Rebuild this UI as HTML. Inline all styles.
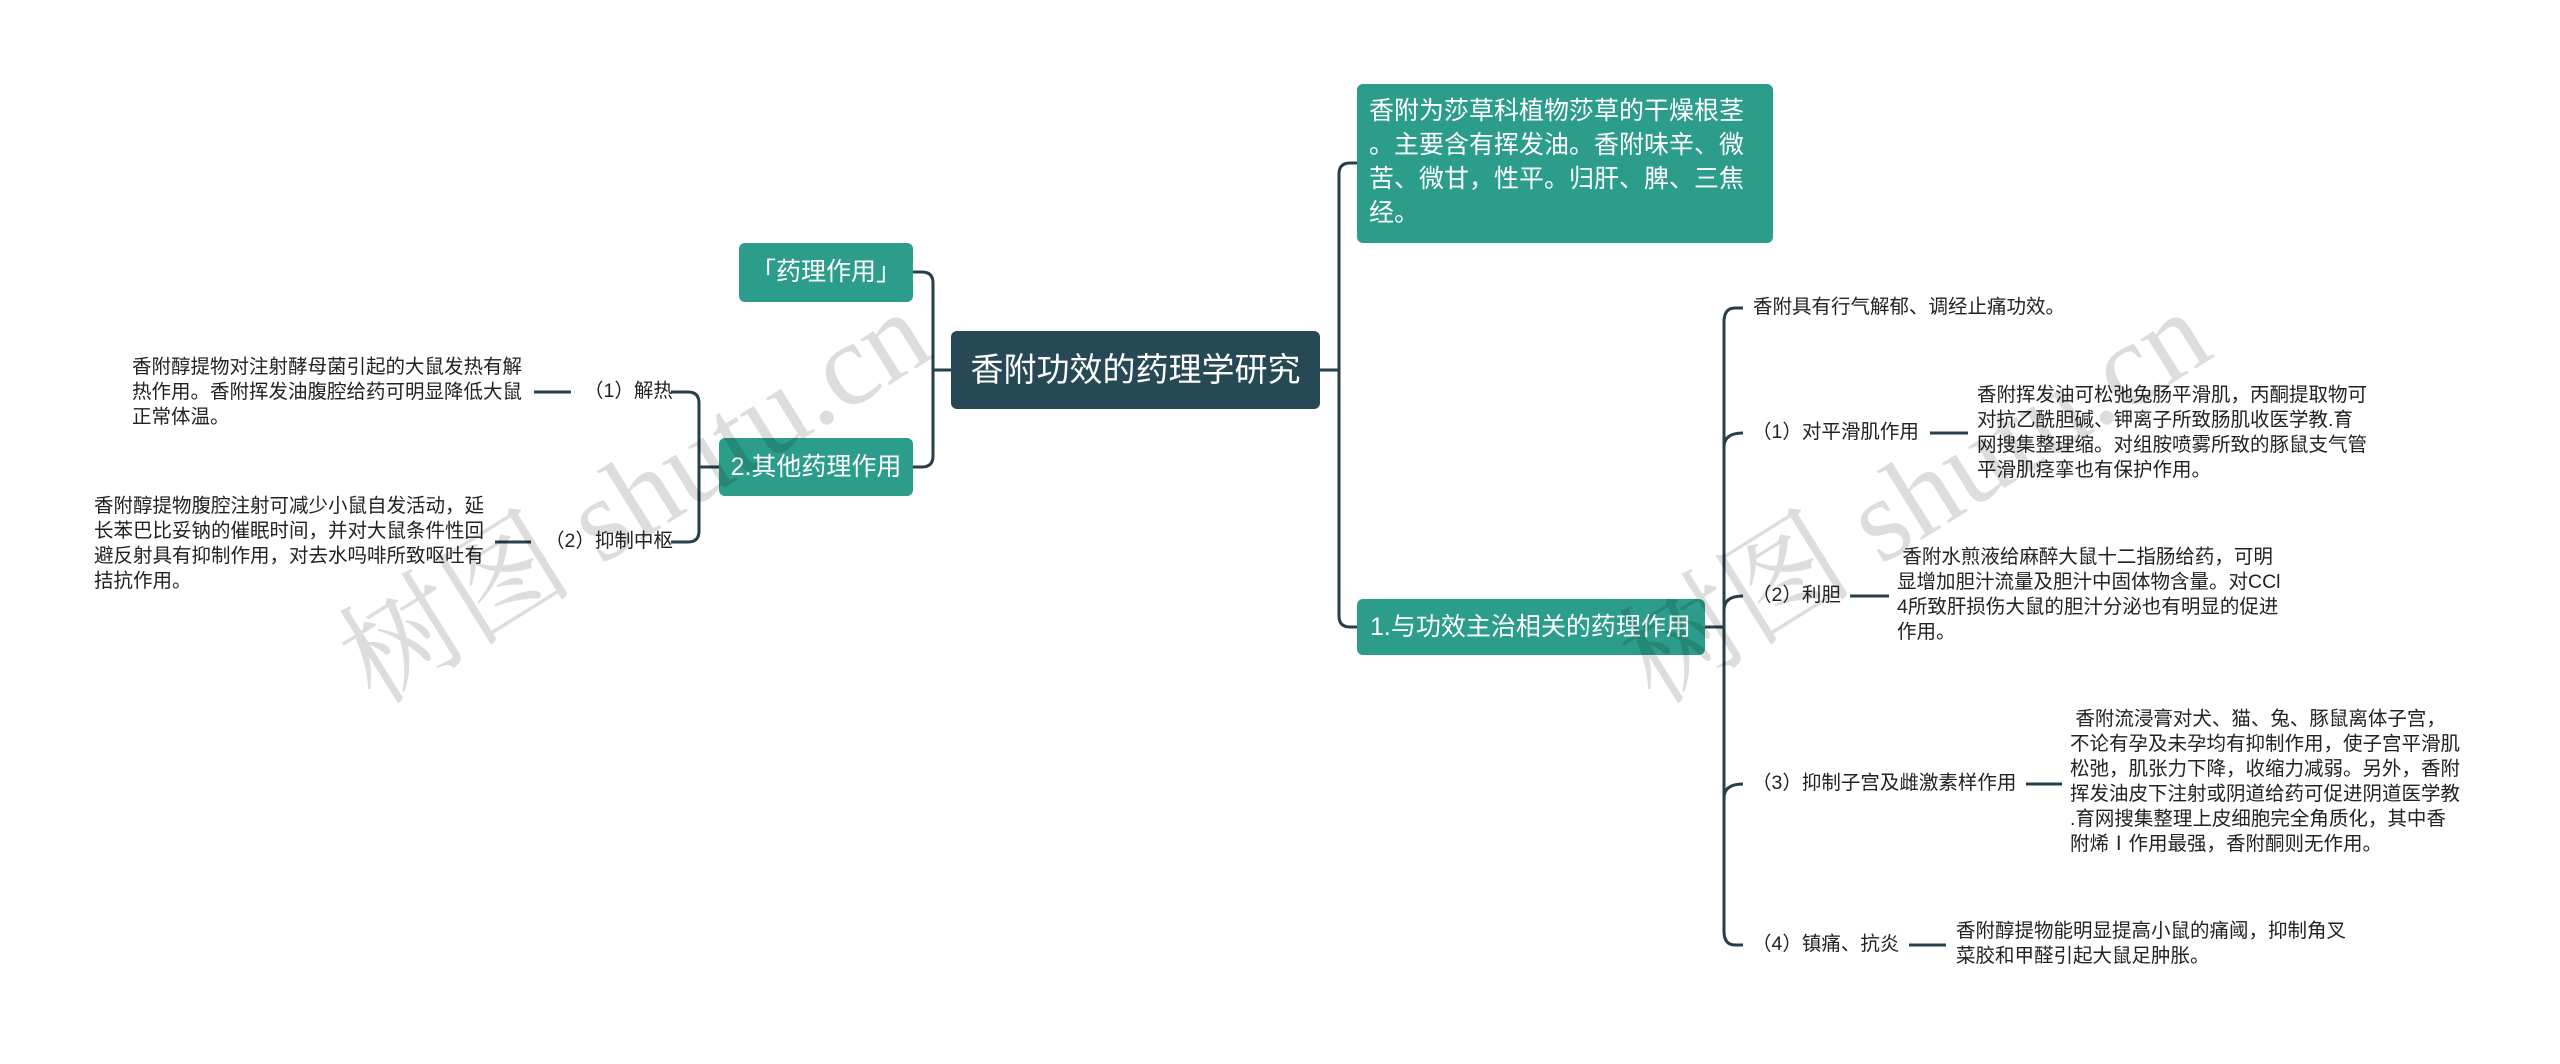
<!DOCTYPE html>
<html><head><meta charset="utf-8"><style>
html,body{margin:0;padding:0;background:#fff;}
body{width:2560px;height:1064px;position:relative;overflow:hidden;font-family:"Liberation Sans","Noto Sans CJK SC",sans-serif;}
.b{position:absolute;box-sizing:border-box;color:#fff;border-radius:6px;white-space:nowrap;}
.t{position:absolute;color:#222;font-size:19.5px;line-height:25px;white-space:nowrap;}
.wm{position:absolute;color:#000;opacity:0.13;font-family:"Liberation Serif","Noto Serif CJK SC",serif;font-size:118px;line-height:135px;white-space:nowrap;transform-origin:left bottom;transform:rotate(-32deg);}
</style></head><body>
<svg width="2560" height="1064" style="position:absolute;left:0;top:0" fill="none" stroke="#263f48" stroke-width="3">
<path d="M951 370 H933"/>
<path d="M913 272 H922 Q933 272 933 283 V456 Q933 467 922 467 H913"/>
<path d="M719 467 H699"/>
<path d="M671 392 H688 Q699 392 699 403 V531 Q699 542 688 542 H671"/>
<path d="M534 392 H571"/>
<path d="M495 542 H531"/>
<path d="M1320 370 H1339"/>
<path d="M1357 163 H1350 Q1339 163 1339 174 V616 Q1339 627 1350 627 H1357"/>
<path d="M1705 627 H1724"/>
<path d="M1743 308 H1735 Q1724 308 1724 322 V931 Q1724 945 1735 945 H1743"/>
<path d="M1724 447 Q1724 433 1743 433"/>
<path d="M1724 610 Q1724 596 1743 596"/>
<path d="M1724 798 Q1724 784 1743 784"/>
<path d="M1930 433 H1968"/>
<path d="M1850 596 H1889"/>
<path d="M2026 784 H2062"/>
<path d="M1909 945 H1946"/>
</svg>

<div class="b" style="left:951px;top:331px;width:369px;height:78px;background:#274955;font-size:33px;line-height:78px;text-align:center;">香附功效的药理学研究</div>
<div class="b" style="left:739px;top:243px;width:174px;height:59px;background:#2b9d8a;font-size:25px;line-height:59px;text-align:center;">「药理作用」</div>
<div class="b" style="left:719px;top:438px;width:194px;height:58px;background:#2b9d8a;font-size:25px;line-height:58px;text-align:center;">2.其他药理作用</div>
<div class="b" style="left:1357px;top:84px;width:416px;height:159px;background:#2b9d8a;font-size:25px;line-height:34px;padding:10px 0 0 12px;">香附为莎草科植物莎草的干燥根茎<br>。主要含有挥发油。香附味辛、微<br>苦、微甘，性平。归肝、脾、三焦<br>经。</div>
<div class="b" style="left:1357px;top:599px;width:348px;height:56px;background:#2b9d8a;font-size:25px;line-height:56px;padding-left:13px;">1.与功效主治相关的药理作用</div>

<div class="t" style="left:132px;top:355px;">香附醇提物对注射酵母菌引起的大鼠发热有解<br>热作用。香附挥发油腹腔给药可明显降低大鼠<br>正常体温。</div>
<div class="t" style="left:584px;top:379px;">（1）解热</div>
<div class="t" style="left:94px;top:494px;">香附醇提物腹腔注射可减少小鼠自发活动，延<br>长苯巴比妥钠的催眠时间，并对大鼠条件性回<br>避反射具有抑制作用，对去水吗啡所致呕吐有<br>拮抗作用。</div>
<div class="t" style="left:545px;top:529px;">（2）抑制中枢</div>

<div class="t" style="left:1753px;top:295px;">香附具有行气解郁、调经止痛功效。</div>
<div class="t" style="left:1752px;top:420px;">（1）对平滑肌作用</div>
<div class="t" style="left:1977px;top:383px;">香附挥发油可松弛兔肠平滑肌，丙酮提取物可<br>对抗乙酰胆碱、钾离子所致肠肌收医学教.育<br>网搜集整理缩。对组胺喷雾所致的豚鼠支气管<br>平滑肌痉挛也有保护作用。</div>
<div class="t" style="left:1752px;top:583px;">（2）利胆</div>
<div class="t" style="left:1897px;top:545px;">&nbsp;香附水煎液给麻醉大鼠十二指肠给药，可明<br>显增加胆汁流量及胆汁中固体物含量。对CCl<br>4所致肝损伤大鼠的胆汁分泌也有明显的促进<br>作用。</div>
<div class="t" style="left:1752px;top:771px;">（3）抑制子宫及雌激素样作用</div>
<div class="t" style="left:2070px;top:707px;">&nbsp;香附流浸膏对犬、猫、兔、豚鼠离体子宫，<br>不论有孕及未孕均有抑制作用，使子宫平滑肌<br>松弛，肌张力下降，收缩力减弱。另外，香附<br>挥发油皮下注射或阴道给药可促进阴道医学教<br>.育网搜集整理上皮细胞完全角质化，其中香<br>附烯Ⅰ作用最强，香附酮则无作用。</div>
<div class="t" style="left:1752px;top:932px;">（4）镇痛、抗炎</div>
<div class="t" style="left:1956px;top:919px;">香附醇提物能明显提高小鼠的痛阈，抑制角叉<br>菜胶和甲醛引起大鼠足肿胀。</div>

<div class="wm" style="left:390px;top:595px;">树图 shutu.cn</div>
<div class="wm" style="left:1670px;top:595px;">树图 shutu.cn</div>
</body></html>
